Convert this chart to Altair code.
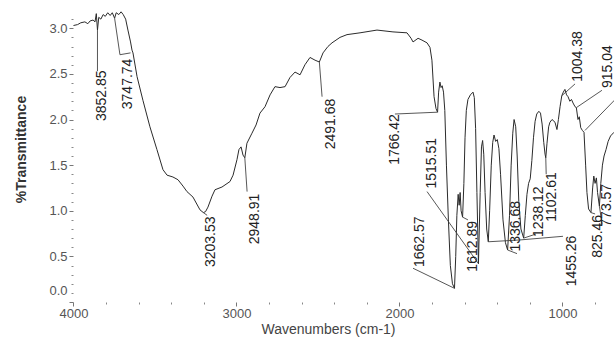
import altair as alt
import pandas as pd

# Infrared spectrum: wavenumber (cm-1) and % transmittance
wavenumber = [
    4000, 3975, 3955, 3930, 3912, 3898, 3880, 3868, 3860, 3852.85, 3845, 3832,
    3818, 3805, 3790, 3775, 3762, 3747.74, 3738, 3722, 3708, 3695, 3680, 3666,
    3650, 3641, 3635, 3610, 3574, 3531, 3488, 3451, 3426, 3390, 3359, 3328,
    3304, 3267, 3224, 3203.53, 3190, 3175, 3150, 3132, 3089, 3040, 3021, 2997,
    2985, 2972, 2960, 2948.91, 2936, 2905, 2880, 2856, 2825, 2794, 2764, 2733,
    2702, 2672, 2641, 2610, 2580, 2549, 2518, 2491.68, 2469, 2439, 2414, 2365,
    2322, 2242, 2138, 2040, 1954, 1929, 1917, 1886, 1862, 1831, 1813, 1801,
    1788, 1776, 1766.42, 1760, 1752, 1745, 1738, 1730, 1722, 1712, 1700, 1688,
    1675, 1662.57, 1655, 1648, 1640, 1634, 1628, 1622, 1612.89, 1605, 1598,
    1590, 1580, 1565, 1549, 1541, 1533, 1525, 1515.51, 1505, 1497, 1490, 1483,
    1475, 1465, 1455.26, 1447, 1437, 1428, 1420, 1410, 1400, 1390, 1380, 1365,
    1350, 1336.68, 1325, 1315, 1305, 1297, 1287, 1278, 1268, 1255, 1238.12,
    1228, 1218, 1208, 1198, 1188, 1178, 1168, 1158, 1145, 1135, 1125, 1115,
    1107, 1102.61, 1095, 1085, 1077, 1064, 1046, 1034, 1025, 1015, 1004.38,
    995, 985, 975, 966, 955, 945, 935, 923, 915.04, 905, 897, 888, 878, 868,
    858, 850, 840, 825.46, 815, 808, 800, 792, 785, 773.57, 765, 755, 745, 733,
    720, 705, 684,
]
transmittance = [
    3.03, 3.04, 3.06, 3.07, 3.05, 3.08, 3.09, 3.07, 3.16, 2.98, 3.12, 3.10,
    3.15, 3.13, 3.17, 3.14, 3.17, 3.11, 3.17, 3.15, 3.18, 3.15, 3.10, 2.98,
    2.85, 2.76, 2.73, 2.47, 2.21, 1.92, 1.67, 1.45, 1.39, 1.37, 1.34, 1.27,
    1.21, 1.15, 1.01, 0.98, 0.99, 1.04, 1.16, 1.23, 1.26, 1.32, 1.39, 1.56,
    1.67, 1.70, 1.61, 1.58, 1.74, 1.85, 1.94, 2.07, 2.14, 2.27, 2.36, 2.35,
    2.36, 2.46, 2.52, 2.49, 2.60, 2.68, 2.65, 2.63, 2.73, 2.80, 2.84, 2.90,
    2.93, 2.95, 2.98, 2.96, 2.95, 2.89, 2.85, 2.89, 2.87, 2.84, 2.79, 2.65,
    2.25, 2.12, 2.08, 2.30, 2.41, 2.35, 2.37, 2.30, 2.10, 1.50, 0.90, 0.40,
    0.20, 0.15, 0.50, 0.95, 1.18, 1.06, 1.20, 1.00, 0.93, 1.30, 1.80,
    2.10, 2.22, 2.27, 2.30, 2.24, 1.90, 1.20, 0.42, 1.20, 1.70, 1.77, 1.62,
    1.20, 0.80, 0.66, 1.00, 1.50, 1.75, 1.83, 1.76, 1.78, 1.68, 1.40, 0.90,
    0.65, 0.57, 0.95, 1.50, 1.85, 2.00, 1.92, 1.60, 1.10, 0.80, 0.70,
    0.95, 1.18, 1.30, 1.35, 1.55, 1.80, 1.98, 2.06, 2.09, 2.07, 1.95, 1.75,
    1.62, 1.58, 1.74, 1.92, 1.97, 2.00, 1.97, 1.89, 2.00, 2.14, 2.26,
    2.30, 2.33, 2.27, 2.25, 2.20, 2.22, 2.18, 2.14, 2.13, 2.00, 2.03, 1.91, 1.88, 1.86,
    1.50, 1.20, 1.02, 0.98, 1.25, 1.38, 1.30, 1.36, 1.20, 1.05, 1.30, 1.50, 1.60, 1.67,
    1.76, 1.82, 1.86,
]

# Peak annotations: label text, centre of the rotated text, leader path
peak_text = ["3852.85", "3747.74", "3203.53", "2948.91", "2491.68", "1766.42",
             "1662.57", "1612.89", "1515.51", "1455.26", "1336.68", "1238.12",
             "1102.61", "1004.38", "915.04", "825.46", "773.57"]
peak_wn = [3852.85, 3747.74, 3203.53, 2948.91, 2491.68, 1766.42, 1662.57,
           1612.89, 1515.51, 1455.26, 1336.68, 1238.12, 1102.61, 1004.38,
           915.04, 825.46, 773.57]
peak_t = [2.98, 3.11, 0.98, 1.58, 2.63, 2.08, 0.15, 0.93, 0.42, 0.66, 0.57,
          0.70, 1.58, 2.26, 2.13, 0.98, 1.05]
text_wn = [3826, 3666, 3156, 2886, 2420, 2028, 1874, 1549, 1800, 942, 1285,
           1144, 1064, 905, 721, 782, 727]
text_t = [2.26, 2.39, 0.66, 0.91, 1.95, 1.78, 0.66, 0.61, 1.52, 0.45, 0.83,
          0.99, 1.15, 2.69, 2.58, 0.72, 1.06]
# leader bends (wn, t) after the peak point, ending at the text
leader_bends = [
    [(3852.85, 2.53)],
    [(3715, 2.71), (3650, 2.73)],
    [(3180, 0.95)],
    [(2935, 1.21)],
    [(2475, 2.25)],
    [(2028, 2.06)],
    [(1917, 0.37)],
    [(1580, 0.90)],
    [(1831, 1.21)],
    [(1261, 0.68), (997, 0.72)],
    [(1279, 0.53)],
    [(1163, 0.745)],
    [(1100, 1.40)],
    [(923, 2.39)],
    [(758, 2.32)],
    [(800, 0.965)],
    [(757, 0.85)],
]
# leader running to a label beyond the plotted range
outside_leader = [(862, 1.88), (600, 2.36)]

# axis tick positions
x_major = [4000, 3000, 2000, 1000]
x_minor = [v for v in range(800, 4001, 200) if v % 1000]
y_major = [0.0, 0.5, 1.0, 1.5, 2.0, 2.5, 3.0]
y_minor = [round(i * 0.1, 1) for i in range(0, 32) if i % 5]

spec = pd.DataFrame({"wn": wavenumber, "t": transmittance})
labels = pd.DataFrame({"text": peak_text, "wn": text_wn, "t": text_t})

rows = []
for i, (w, t) in enumerate(zip(peak_wn, peak_t)):
    pts = [(w, t)] + leader_bends[i]
    for k, (pw, pt) in enumerate(pts):
        rows.append({"id": peak_text[i], "k": k, "wn": pw, "t": pt})
for k, (pw, pt) in enumerate(outside_leader):
    rows.append({"id": "outside", "k": k, "wn": pw, "t": pt})
leaders = pd.DataFrame(rows)

FONT = "Liberation Sans"
INK = "#2b2b2b"
X_SCALE = alt.Scale(domain=[684, 4003], reverse=True, nice=False, zero=False)
Y_SCALE = alt.Scale(domain=[0, 3.2], nice=False, zero=False)

common = dict(domain=False, grid=False, labelOverlap=False, labelBound=False,
              tickColor="#777", labelFont=FONT, labelFontSize=13, labelColor="#555")

# main axes: labelled major ticks
x_axis = alt.Axis(
    title="Wavenumbers (cm-1)", values=x_major, format="d", labelFlush=False,
    tickSize=4, labelPadding=1,
    titleFont=FONT, titleFontSize=14, titleFontWeight="normal", titleColor="#444",
    titleX=255, titleY=31, titleBaseline="alphabetic", titleAlign="center",
    **common,
)
y_axis = alt.Axis(
    title="%Transmittance", values=y_major, format=".1f", orient="left",
    labelFlush=True, labelFlushOffset=-5, tickSize=4, labelPadding=2,
    titleFont=FONT, titleFontSize=14, titleFontWeight="bold", titleColor="#333",
    titleX=-48, titleY=139, titleBaseline="alphabetic", titleAlign="center",
    titleAngle=270,
    **common,
)
# secondary axes: unlabelled minor ticks
x_minor_axis = alt.Axis(title=None, values=x_minor, labels=False, tickSize=2,
                        orient="bottom", domain=False, grid=False, tickColor="#888")
y_minor_axis = alt.Axis(title=None, values=y_minor, labels=False, tickSize=2,
                        orient="left", domain=False, grid=False, tickColor="#888")

trace = alt.Chart(spec).mark_line(color=INK, strokeWidth=1, clip=True).encode(
    x=alt.X("wn:Q", scale=X_SCALE, axis=x_axis),
    y=alt.Y("t:Q", scale=Y_SCALE, axis=y_axis),
    order="wn:Q",
)

leader_lines = alt.Chart(leaders).mark_line(color="#444", strokeWidth=0.9, clip=True).encode(
    x=alt.X("wn:Q", scale=X_SCALE, axis=x_minor_axis),
    y=alt.Y("t:Q", scale=Y_SCALE, axis=y_minor_axis),
    detail="id:N",
    order="k:Q",
)

label_text = alt.Chart(labels).mark_text(
    angle=270, align="center", baseline="middle", font=FONT, fontSize=14, color="#222"
).encode(
    x=alt.X("wn:Q", scale=X_SCALE, axis=None),
    y=alt.Y("t:Q", scale=Y_SCALE, axis=None),
    text="text:N",
)

chart = alt.layer(trace, leader_lines, label_text).resolve_axis(
    x="independent", y="independent"
).properties(
    width=541,
    height=292,
    autosize=alt.AutoSizeParams(type="none"),
    padding={"left": 73, "top": 10, "right": 0, "bottom": 40},
    background="white",
).configure_view(stroke=None)

chart.save("out.html", embed_options={"renderer": "svg", "actions": False})
